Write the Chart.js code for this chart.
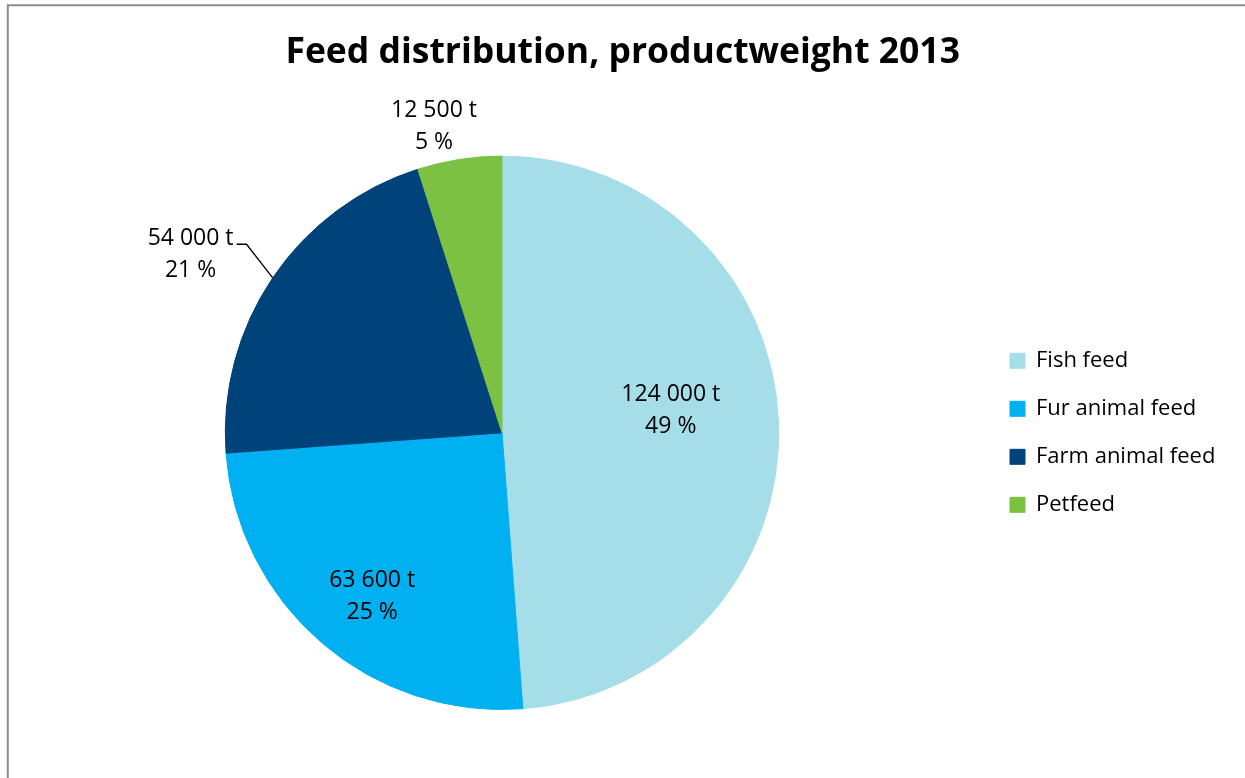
<!DOCTYPE html>
<html>
<head>
<meta charset="utf-8">
<title>Feed distribution, productweight 2013</title>
<script src="https://cdn.jsdelivr.net/npm/chart.js@4.4.0/dist/chart.umd.min.js"></script>
<style>
  html, body { margin: 0; padding: 0; background: #fff; overflow: hidden; }
  #wrap { position: relative; width: 1245px; height: 778px; overflow: hidden; }
  canvas { display: block; }
</style>
</head>
<body>
<div id="wrap"><canvas id="feedChart" width="1245" height="778"></canvas></div>
<script>
// Feed volumes by use, tonnes
const categories = ['Fish feed', 'Fur animal feed', 'Farm animal feed', 'Petfeed'];
const tonnes = [124000, 63600, 54000, 12500];
const sliceColors = ['#A5DEE9', '#00B0F0', '#00427A', '#7CC142'];
const chartTitle = 'Feed distribution, productweight 2013';

const FONT = '"Open Sans", "Noto Sans", sans-serif';
const LEGEND_SIZE = 22;
const LEGEND_GAP = 26;
const LEGEND_BOX = 15;

// "124000" -> "124 000"
function groupThousands(v) {
  return String(v).replace(/\B(?=(\d{3})+(?!\d))/g, ' ');
}

// Reserve room on the right so the legend block starts at a fixed x
function legendRightPadding() {
  const c = document.createElement('canvas').getContext('2d');
  c.font = LEGEND_SIZE + 'px ' + FONT;
  const widest = Math.max(...categories.map(t => c.measureText(t).width));
  const legendWidth = LEGEND_GAP + LEGEND_BOX + LEGEND_SIZE / 2 + widest + 10;
  return Math.max(0, 1245 - 984 - legendWidth);
}

// White page with a grey frame on the top and left edges
const framePlugin = {
  id: 'frame',
  beforeDraw(chart) {
    const { ctx, width, height } = chart;
    ctx.save();
    ctx.fillStyle = '#ffffff';
    ctx.fillRect(0, 0, width, height);
    ctx.strokeStyle = '#8c8c8c';
    ctx.lineWidth = 2;
    ctx.beginPath();
    ctx.moveTo(7.8, height + 5);
    ctx.lineTo(7.8, 5.3);
    ctx.lineTo(width + 5, 5.3);
    ctx.stroke();
    ctx.restore();
  }
};

// Two-line value / share labels placed around each slice's mid angle
const sliceLabelPlugin = {
  id: 'sliceLabels',
  afterDatasetsDraw(chart, args, opts) {
    const ctx = chart.ctx;
    const meta = chart.getDatasetMeta(0);
    const values = chart.data.datasets[0].data;
    const total = values.reduce((a, b) => a + b, 0);
    ctx.save();
    ctx.font = opts.font;
    ctx.fillStyle = opts.color;
    ctx.textAlign = 'center';
    ctx.textBaseline = 'middle';
    meta.data.forEach((arc, i) => {
      const p = arc.getProps(['x', 'y', 'startAngle', 'endAngle', 'outerRadius'], true);
      const place = opts.placement[i];
      const mid = (p.startAngle + p.endAngle) / 2;
      const a = mid + place.shift * Math.PI / 180;
      const cx = p.x + Math.cos(a) * p.outerRadius * place.radius;
      const cy = p.y + Math.sin(a) * p.outerRadius * place.radius + opts.nudge;
      const line1 = groupThousands(values[i]) + ' t';
      const line2 = Math.round(values[i] / total * 100) + ' %';
      ctx.fillText(line1, cx, cy - opts.lineGap / 2);
      ctx.fillText(line2, cx, cy + opts.lineGap / 2);
      if (place.leader) {
        const w = ctx.measureText(line1).width;
        const lx = cx + w / 2 + 3;
        const ly = cy - opts.lineGap / 2 + 6;
        ctx.beginPath();
        ctx.moveTo(lx, ly);
        ctx.lineTo(lx + 10, ly);
        ctx.lineTo(p.x + Math.cos(mid) * p.outerRadius, p.y + Math.sin(mid) * p.outerRadius);
        ctx.strokeStyle = '#000000';
        ctx.lineWidth = 1.3;
        ctx.stroke();
      }
    });
    ctx.restore();
  }
};

new Chart(document.getElementById('feedChart'), {
  type: 'pie',
  data: {
    labels: categories,
    datasets: [{
      data: tonnes,
      backgroundColor: sliceColors,
      borderColor: sliceColors,
      borderWidth: 1,
      hoverOffset: 0
    }]
  },
  options: {
    responsive: false,
    animation: false,
    devicePixelRatio: 1,
    layout: { padding: { left: 20, right: legendRightPadding(), top: 0, bottom: 68 } },
    plugins: {
      title: {
        display: true,
        text: chartTitle,
        color: '#000000',
        font: { family: FONT, size: 35.5, weight: 'bold', lineHeight: 1.2 },
        padding: { top: 32, bottom: 81 }
      },
      legend: {
        display: true,
        position: 'right',
        align: 'center',
        fullSize: false,
        labels: {
          color: '#000000',
          font: { family: FONT, size: LEGEND_SIZE },
          boxWidth: LEGEND_BOX,
          boxHeight: LEGEND_BOX,
          padding: LEGEND_GAP
        }
      },
      tooltip: { enabled: false },
      sliceLabels: {
        font: '23px ' + FONT,
        color: '#000000',
        lineGap: 32,
        nudge: 1.5,
        placement: [
          { radius: 0.616, shift: -5.9 },
          { radius: 0.750, shift: -2.0 },
          { radius: 1.30, shift: -4.0, leader: true },
          { radius: 1.139, shift: -3.6 }
        ]
      }
    }
  },
  plugins: [framePlugin, sliceLabelPlugin]
});
</script>
</body>
</html>
